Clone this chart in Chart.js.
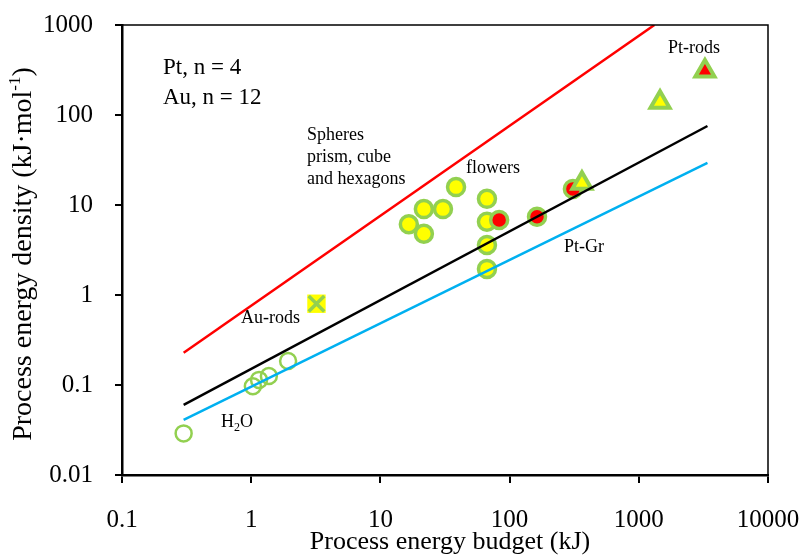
<!DOCTYPE html>
<html>
<head>
<meta charset="utf-8">
<script src="https://cdn.jsdelivr.net/npm/chart.js@4.4.1/dist/chart.umd.min.js"></script>
<style>
  html, body { margin: 0; padding: 0; background: #fff; }
  #wrap { width: 801px; height: 556px; }
</style>
</head>
<body>
<div id="wrap"><canvas id="energyChart" width="801" height="556"></canvas></div>
<script>
// ? Data
// ? ==================================
const xTicks = [0.1, 1, 10, 100, 1000, 10000];
const yTicks = [0.01, 0.1, 1, 10, 100, 1000];

const h2oX = [0.3, 1.03, 1.15, 1.37, 1.93];
const h2oY = [0.029, 0.097, 0.114, 0.126, 0.185];

const auRodX = [3.2];
const auRodY = [0.8];

const sphereX = [38.5, 21.7, 30.5, 16.6, 21.7, 66.8, 66.8, 66.8, 66.8];
const sphereY = [15.8, 9.0, 9.0, 6.1, 4.8, 11.7, 6.5, 3.6, 1.95];

const ptRedX = [83, 163, 309];
const ptRedY = [6.8, 7.4, 15.1];

const triX = [363, 1460];
const triY = [17.5, 139];

const ptRodX = [3250];
const ptRodY = [308];

const lineX = [0.3, 3400];
const blackY = [0.06, 75.5];
const blueY = [0.041, 29.3];
const redLineX = [0.3, 1320];
const redLineY = [0.228, 1000];

const GREEN = "#92D050";
const YELLOW = "#FFFF00";
const RED = "#FF0000";
const BLUE = "#00B0F0";
const FONT = "'Liberation Serif', 'Times New Roman', serif";

function pts(xs, ys) {
  return xs.map((x, i) => ({ x: x, y: ys[i] }));
}

// & Text labels inside plot + axis titles
// & ============================
const labelsPlugin = {
  id: "labels",
  afterDraw(chart) {
    const ctx = chart.ctx;
    const a = chart.chartArea;
    ctx.save();
    // frame top/right
    ctx.strokeStyle = "#000";
    ctx.lineWidth = 1.5;
    ctx.beginPath();
    ctx.moveTo(a.left, a.top);
    ctx.lineTo(a.right, a.top);
    ctx.lineTo(a.right, a.bottom);
    ctx.stroke();

    ctx.fillStyle = "#000";
    ctx.textBaseline = "alphabetic";
    ctx.font = "23px " + FONT;
    ctx.fillText("Pt, n = 4", 163, 74);
    ctx.fillText("Au, n = 12", 163, 104);

    ctx.font = "18px " + FONT;
    ctx.textBaseline = "middle";
    ctx.fillText("Spheres", 307, 135);
    ctx.fillText("prism, cube", 307, 157);
    ctx.fillText("and hexagons", 307, 179);
    ctx.fillText("flowers", 466, 168);
    ctx.fillText("Pt-rods", 668, 48);
    ctx.fillText("Pt-Gr", 564, 247);
    ctx.fillText("Au-rods", 241, 318);
    ctx.fillText("H", 221, 422);
    let w = ctx.measureText("H").width;
    ctx.font = "12px " + FONT;
    ctx.fillText("2", 221 + w, 428);
    let w2 = ctx.measureText("2").width;
    ctx.font = "18px " + FONT;
    ctx.fillText("O", 221 + w + w2, 422);

    // x title
    ctx.font = "26px " + FONT;
    ctx.textAlign = "center";
    ctx.fillText("Process energy budget (kJ)", 450, 542);

    // y title (rotated, with superscript)
    ctx.translate(24, 254);
    ctx.rotate(-Math.PI / 2);
    ctx.textAlign = "left";
    const main = "Process energy density (kJ\u00B7mol";
    const sup = "-1";
    const tail = ")";
    ctx.font = "28px " + FONT;
    const mw = ctx.measureText(main).width;
    const tw = ctx.measureText(tail).width;
    ctx.font = "17px " + FONT;
    const sw = ctx.measureText(sup).width;
    let x0 = -(mw + sw + tw) / 2;
    ctx.font = "28px " + FONT;
    ctx.fillText(main, x0, 0);
    ctx.font = "17px " + FONT;
    ctx.fillText(sup, x0 + mw, -8);
    ctx.font = "28px " + FONT;
    ctx.fillText(tail, x0 + mw + sw, 0);
    ctx.restore();
  },
};

// * Chart
// * ============================
const ctx = document.getElementById("energyChart").getContext("2d");
new Chart(ctx, {
  type: "scatter",
  data: {
    datasets: [
      { type: "line", data: pts(redLineX, redLineY), borderColor: RED, borderWidth: 2.5, pointRadius: 0, order: 0 },
      { type: "line", data: pts(lineX, blackY), borderColor: "#000", borderWidth: 2.5, pointRadius: 0, order: 0 },
      { type: "line", data: pts(lineX, blueY), borderColor: BLUE, borderWidth: 2.5, pointRadius: 0, order: 0 },
      { data: pts(ptRodX, ptRodY), pointStyle: "triangle", pointRadius: 11, backgroundColor: RED, borderColor: GREEN, borderWidth: 4, order: 1 },
      { data: pts(triX, triY), pointStyle: "triangle", pointRadius: 11, backgroundColor: YELLOW, borderColor: GREEN, borderWidth: 4, order: 1 },
      { data: pts(ptRedX, ptRedY), pointStyle: "circle", pointRadius: 8.5, backgroundColor: RED, borderColor: GREEN, borderWidth: 3.5, order: 2 },
      { data: pts(sphereX, sphereY), pointStyle: "circle", pointRadius: 8.5, backgroundColor: YELLOW, borderColor: GREEN, borderWidth: 3.5, order: 3 },
      { data: pts(auRodX, auRodY), pointStyle: "crossRot", pointRadius: 11, borderColor: GREEN, borderWidth: 3.5, order: 4 },
      { data: pts(auRodX, auRodY), pointStyle: "rect", pointRadius: 13, backgroundColor: YELLOW, borderWidth: 0, order: 5 },
      { data: pts(h2oX, h2oY), pointStyle: "circle", pointRadius: 8, backgroundColor: "rgba(255,255,255,0)", borderColor: GREEN, borderWidth: 2.5, order: 6 },
    ],
  },
  options: {
    responsive: false,
    animation: false,
    layout: { padding: { top: 25, right: 33, left: 0, bottom: 0 } },
    plugins: { legend: { display: false }, tooltip: { enabled: false } },
    scales: {
      x: {
        type: "logarithmic",
        min: 0.1,
        max: 10000,
        afterBuildTicks: (s) => { s.ticks = xTicks.map((v) => ({ value: v })); },
        afterFit: (s) => { s.height = 81; s.paddingLeft = 0; s.paddingRight = 0; },
        border: { color: "#000", width: 2.5 },
        grid: { drawOnChartArea: false, color: "#000", lineWidth: 2, tickLength: 8 },
        ticks: {
          color: "#000",
          font: { family: FONT, size: 25 },
          padding: 22,
          maxRotation: 0,
          callback: (v) => String(v),
        },
      },
      y: {
        type: "logarithmic",
        min: 0.01,
        max: 1000,
        afterBuildTicks: (s) => { s.ticks = yTicks.map((v) => ({ value: v })); },
        afterFit: (s) => { s.width = 122; s.paddingTop = 0; s.paddingBottom = 0; },
        border: { color: "#000", width: 2.5 },
        grid: { drawOnChartArea: false, color: "#000", lineWidth: 2, tickLength: 7 },
        ticks: {
          color: "#000",
          font: { family: FONT, size: 25 },
          padding: 22,
          callback: (v) => String(v),
        },
      },
    },
  },
  plugins: [labelsPlugin],
});
</script>
</body>
</html>
